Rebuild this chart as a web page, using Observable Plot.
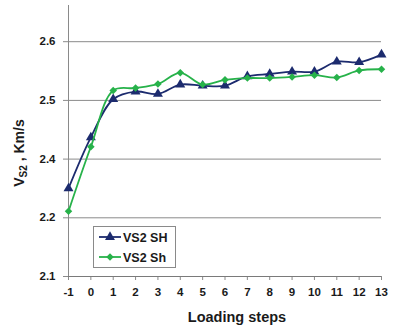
<!DOCTYPE html>
<html><head><meta charset="utf-8">
<script src="https://cdn.jsdelivr.net/npm/d3@7"></script>
<script src="https://cdn.jsdelivr.net/npm/@observablehq/plot@0.6"></script>
<style>
body{margin:0;background:#fff;}
#chart svg{font-family:"Liberation Sans",Arial,sans-serif;}
</style>
</head><body><div id="chart"></div>
<script>
// ---- data ----
const steps = [-1, 0, 1, 2, 3, 4, 5, 6, 7, 8, 9, 10, 11, 12, 13];
const vsSH  = [2.30, 2.437, 2.502, 2.515, 2.511, 2.527, 2.525, 2.525, 2.541, 2.545, 2.549, 2.549, 2.566, 2.565, 2.578];
const vsSh  = [2.222, 2.421, 2.517, 2.521, 2.528, 2.547, 2.527, 2.535, 2.538, 2.538, 2.540, 2.543, 2.539, 2.551, 2.553];
const seriesNames = ["VS2 SH", "VS2 Sh"];
const yTicks = [2.1, 2.2, 2.4, 2.5, 2.6];
const xTicks = steps;
const xTitle = "Loading steps";

// ---- styles ----
const navy = "#1c2b6e";
const green = "#27b24a";
const W = 395, H = 328;
const mL = 68, mR = 14, mT = 5, mB = 52;
const bottom = H - mB;
const step = 58.7; // px per tick interval
const yDomain = [2.1, 2.2, 2.4, 2.5, 2.6, 2.7];
const yRange = yDomain.map((d, i) => bottom - i * step);

const dataSH = steps.map((s, i) => ({step: s, v: vsSH[i]}));
const dataSh = steps.map((s, i) => ({step: s, v: vsSh[i]}));

const plot = Plot.plot({
  width: W, height: H,
  marginLeft: mL, marginRight: mR, marginTop: mT, marginBottom: mB,
  style: {fontFamily: "Liberation Sans, Arial, sans-serif", background: "#fff"},
  x: {domain: [-1, 13]},
  y: {type: "linear", domain: yDomain, range: yRange},
  marks: [
    Plot.gridY(yTicks.slice(1), {stroke: "#8a8a8a", strokeOpacity: 1, strokeWidth: 1}),
    Plot.axisY({ticks: yTicks, tickFormat: d => d.toFixed(1), tickSize: 5, tickPadding: 8,
      fontSize: 11.5, fontWeight: "bold", fill: "#1a1a1a", stroke: "#8a8a8a", label: null}),
    Plot.axisX({ticks: xTicks, tickFormat: d => String(d), tickSize: 4, tickPadding: 7,
      fontSize: 11.5, fontWeight: "bold", fill: "#1a1a1a", stroke: "#8a8a8a", label: null}),
    Plot.frame({anchor: "left", stroke: "#8a8a8a"}),
    Plot.ruleY([yTicks[0]], {stroke: "#7a7a7a", strokeWidth: 1.2}),
    Plot.line(dataSH, {x: "step", y: "v", stroke: navy, strokeWidth: 1.8, curve: "catmull-rom"}),
    Plot.dot(dataSH, {x: "step", y: "v", symbol: "triangle", fill: navy, r: 3.7}),
    Plot.line(dataSh, {x: "step", y: "v", stroke: green, strokeWidth: 1.8, curve: "catmull-rom"}),
    Plot.dot(dataSh, {x: "step", y: "v", symbol: "diamond2", fill: green, r: 3.4})
  ]
});

const svg = d3.select(plot);

// y axis title with subscript
const yt = svg.append("text")
  .attr("transform", "translate(24,153) rotate(-90)")
  .attr("text-anchor", "middle")
  .attr("font-size", 14).attr("font-weight", "bold").attr("fill", "#1a1a1a");
yt.append("tspan").text("V");
yt.append("tspan").attr("font-size", 10).attr("dy", 3).text("S2");
yt.append("tspan").attr("dy", -3).text(" , Km/s");

// x axis title
svg.append("text")
  .attr("x", 237).attr("y", 322)
  .attr("text-anchor", "middle")
  .attr("font-size", 14.5).attr("font-weight", "bold").attr("fill", "#1a1a1a")
  .text(xTitle);

// legend
const lg = svg.append("g").attr("text-anchor", "start");
lg.append("rect").attr("x", 93.5).attr("y", 226.5).attr("width", 82).attr("height", 41)
  .attr("fill", "#fff").attr("stroke", "#8a8a8a");
const colors = [navy, green];
const symbols = [d3.symbolTriangle, d3.symbolDiamond2];
const sizes = [Math.PI * 3.7 * 3.7, Math.PI * 3.4 * 3.4];
seriesNames.forEach((name, i) => {
  const y = 237 + i * 20;
  lg.append("line").attr("x1", 99).attr("x2", 121).attr("y1", y).attr("y2", y)
    .attr("stroke", colors[i]).attr("stroke-width", 1.8);
  lg.append("path").attr("transform", `translate(110,${y})`)
    .attr("d", d3.symbol(symbols[i], sizes[i])()).attr("fill", colors[i]);
  lg.append("text").attr("x", 123).attr("y", y + 4.5).attr("text-anchor", "start")
    .attr("font-size", 12.5).attr("font-weight", "bold").attr("fill", "#1a1a1a").text(name);
});

document.getElementById("chart").append(plot);
</script>
</body></html>
